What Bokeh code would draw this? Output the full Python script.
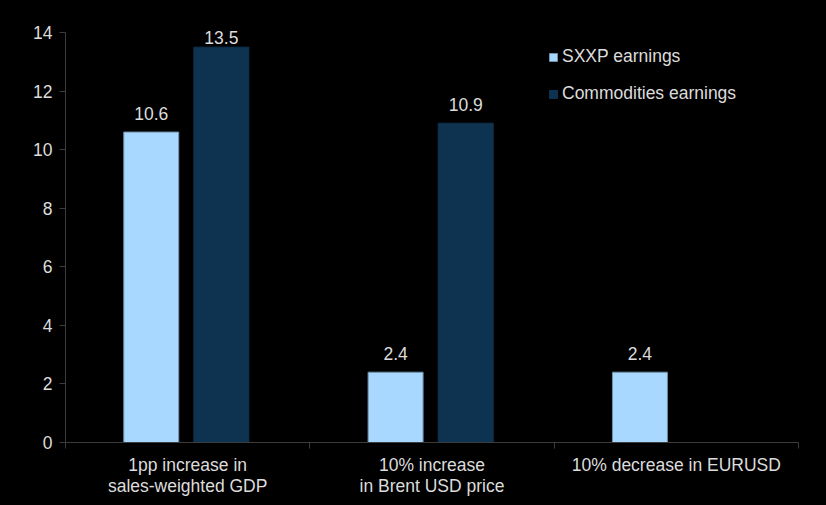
from bokeh.plotting import figure
from bokeh.models import Range1d, FixedTicker, Legend, LegendItem, ColumnDataSource, GlobalInlineStyleSheet, LabelSet
from bokeh.core.properties import value
from bokeh.embed import file_html
from bokeh.resources import INLINE
import numpy as np

categories = ["1pp increase in\nsales-weighted GDP", "10% increase\nin Brent USD price", "10% decrease in EURUSD"]
sxxp = [10.6, 2.4, 2.4]
commod = [13.5, 10.9, None]
y_ticks = [0, 2, 4, 6, 8, 10, 12, 14]

TXT = "#dcdcdc"
AX = "#3c3c3c"
LIGHT = "#a8d8ff"
LIGHT_EDGE = "#6f8fa8"
DARK = "#0e3350"
FONT = "Liberation Sans"
FS = "17.5px"

y_max = y_ticks[-1]
ppu = 410 / y_max          # pixels per unit of the value axis
y_top = y_max + 32 / ppu   # headroom above the axis end for labels

p = figure(width=826, height=505, output_backend="svg", toolbar_location=None,
           x_range=Range1d(0, 3), y_range=Range1d(0, y_top),
           min_border_left=65, min_border_right=28, min_border_top=0, min_border_bottom=63,
           background_fill_color="black", border_fill_color="black", outline_line_color=None)
p.stylesheets = [GlobalInlineStyleSheet(css="html, body {background-color: #000000;}")]
p.grid.visible = False

idx = np.arange(len(categories)) + 0.5
w = 0.225


def label_y(vals):
    # place label 12px above the bar, but keep it inside the plot area (as Excel does)
    return list(np.minimum(np.array(vals) + 12 / ppu, y_max - 11 / ppu))


s1 = ColumnDataSource(dict(x=idx - 0.149, top=sxxp, ly=label_y(sxxp), lab=[f"{v:.1f}" for v in sxxp]))
cv = [v for v in commod if v is not None]
cx = [idx[i] + 0.138 for i, v in enumerate(commod) if v is not None]
s2 = ColumnDataSource(dict(x=cx, top=cv, ly=label_y(cv), lab=[f"{v:.1f}" for v in cv]))

r1 = p.vbar(x="x", top="top", width=w, source=s1, fill_color=LIGHT, line_color=LIGHT_EDGE, line_width=1)
r2 = p.vbar(x="x", top="top", width=w, source=s2, fill_color=DARK, line_color=DARK)

for s in (s1, s2):
    p.add_layout(LabelSet(x="x", y="ly", text="lab", source=s, text_align="center",
                          text_baseline="alphabetic", text_color=TXT,
                          text_font=value(FONT), text_font_size=FS))

# x axis
xa = p.xaxis[0]
xa.ticker = FixedTicker(ticks=list(idx), minor_ticks=[0, 1, 2, 3])
xa.major_label_overrides = {float(i): c for i, c in zip(idx, categories)}
xa.major_tick_line_color = None
xa.minor_tick_line_color = AX
xa.minor_tick_out = 6
xa.minor_tick_in = 0
xa.axis_line_color = AX
xa.major_label_text_color = TXT
xa.major_label_text_font = FONT
xa.major_label_text_font_size = FS
xa.major_label_text_line_height = 1.07
xa.major_label_standoff = 6

ya = p.yaxis[0]
ya.ticker = FixedTicker(ticks=y_ticks)
ya.bounds = (0, y_max)
ya.axis_line_color = AX
ya.major_tick_line_color = AX
ya.major_tick_out = 6
ya.major_tick_in = 0
ya.minor_tick_line_color = None
ya.major_label_text_color = TXT
ya.major_label_text_font = FONT
ya.major_label_text_font_size = FS
ya.major_label_standoff = 7

legend = Legend(items=[LegendItem(label="SXXP earnings", renderers=[r1]),
                       LegendItem(label="Commodities earnings", renderers=[r2])],
                location=(483, 338), orientation="vertical",
                background_fill_alpha=0, border_line_color=None,
                glyph_width=10, glyph_height=10, label_height=20, spacing=16,
                padding=0, margin=0, label_standoff=4,
                label_text_color=TXT, label_text_font=FONT, label_text_font_size=FS)
p.add_layout(legend)

open("out.html", "w").write(file_html(p, INLINE))
